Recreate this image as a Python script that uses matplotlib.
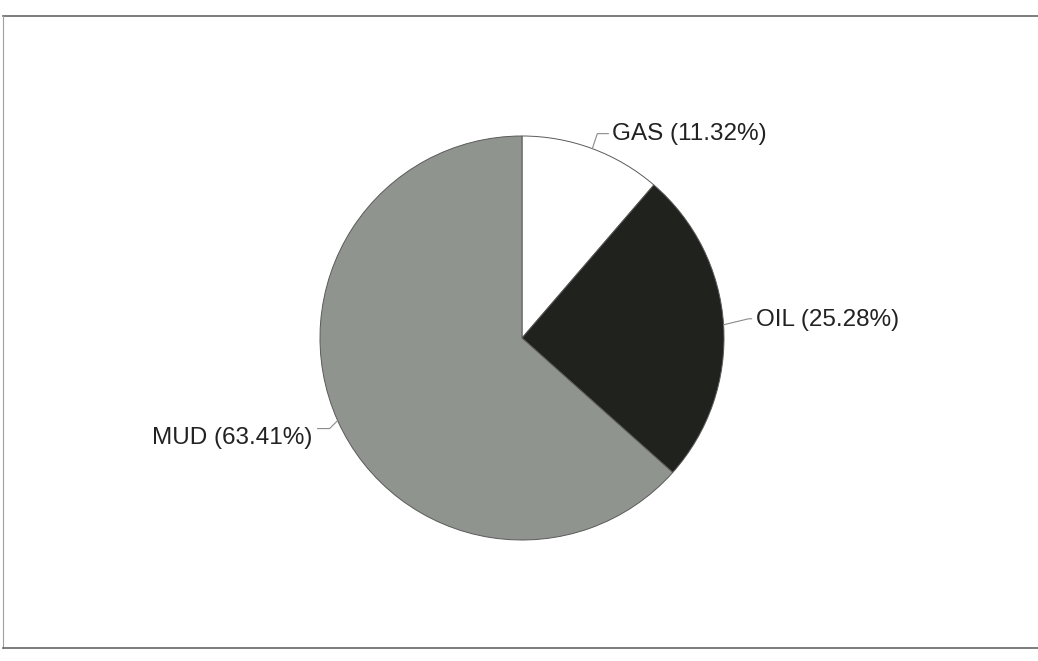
import matplotlib
matplotlib.use("Agg")
import matplotlib.pyplot as plt
import numpy as np

# Fluid composition (percent)
labels = ["GAS", "OIL", "MUD"]
shares = [11.32, 25.28, 63.41]
colors = ["#ffffff", "#20221d", "#90948f"]

W, H = 1038, 661
CX, CY, R = 522, H - 338, 202  # pie centre / radius in pixel units (y up)

plt.rcParams["font.family"] = ["Liberation Sans", "DejaVu Sans"]

fig = plt.figure(figsize=(W / 100, H / 100), dpi=100)
ax = fig.add_axes([0, 0, 1, 1])

wedges, _ = ax.pie(
    shares, colors=colors, startangle=90, counterclock=False,
    center=(CX, CY), radius=R, frame=True,
    wedgeprops=dict(edgecolor="#5a5a5a", linewidth=0.7),
)
ax.set_xlim(0, W)
ax.set_ylim(0, H)
ax.set_aspect("equal")
ax.axis("off")

# leader geometry relative to the wedge's mid point on the rim (pixels)
layout = {
    "GAS": dict(elbow=(5, 15), end=(16, 15), dy=0, ha="left"),
    "OIL": dict(elbow=(25, 6), end=(28, 6), dy=-1, ha="left"),
    "MUD": dict(elbow=(-8, -8), end=(-20, -8), dy=-9, ha="right"),
}

for w, lab, val in zip(wedges, labels, shares):
    mid = np.deg2rad((w.theta1 + w.theta2) / 2)
    px, py = CX + R * np.cos(mid), CY + R * np.sin(mid)
    lay = layout[lab]
    ex, ey = px + lay["elbow"][0], py + lay["elbow"][1]
    tx, ty = px + lay["end"][0], py + lay["end"][1]
    ax.plot([px, ex, tx], [py, ey, ty], color="#8a8a8a", lw=0.8)
    pad = 4 if lay["ha"] == "left" else -5
    ax.text(tx + pad, ty + lay["dy"], f"{lab} ({val:.2f}%)", ha=lay["ha"],
            va="center", fontsize=17.5, color="#222222")

# chart frame
ax.plot([3, W], [H - 16, H - 16], color="#666666", lw=1.2)
ax.plot([3, 3], [H - 16, H - 648], color="#a0a0a0", lw=0.8)
ax.plot([3, W], [H - 648, H - 648], color="#666666", lw=1.2)

fig.savefig("out.png", dpi=100, facecolor="white")
